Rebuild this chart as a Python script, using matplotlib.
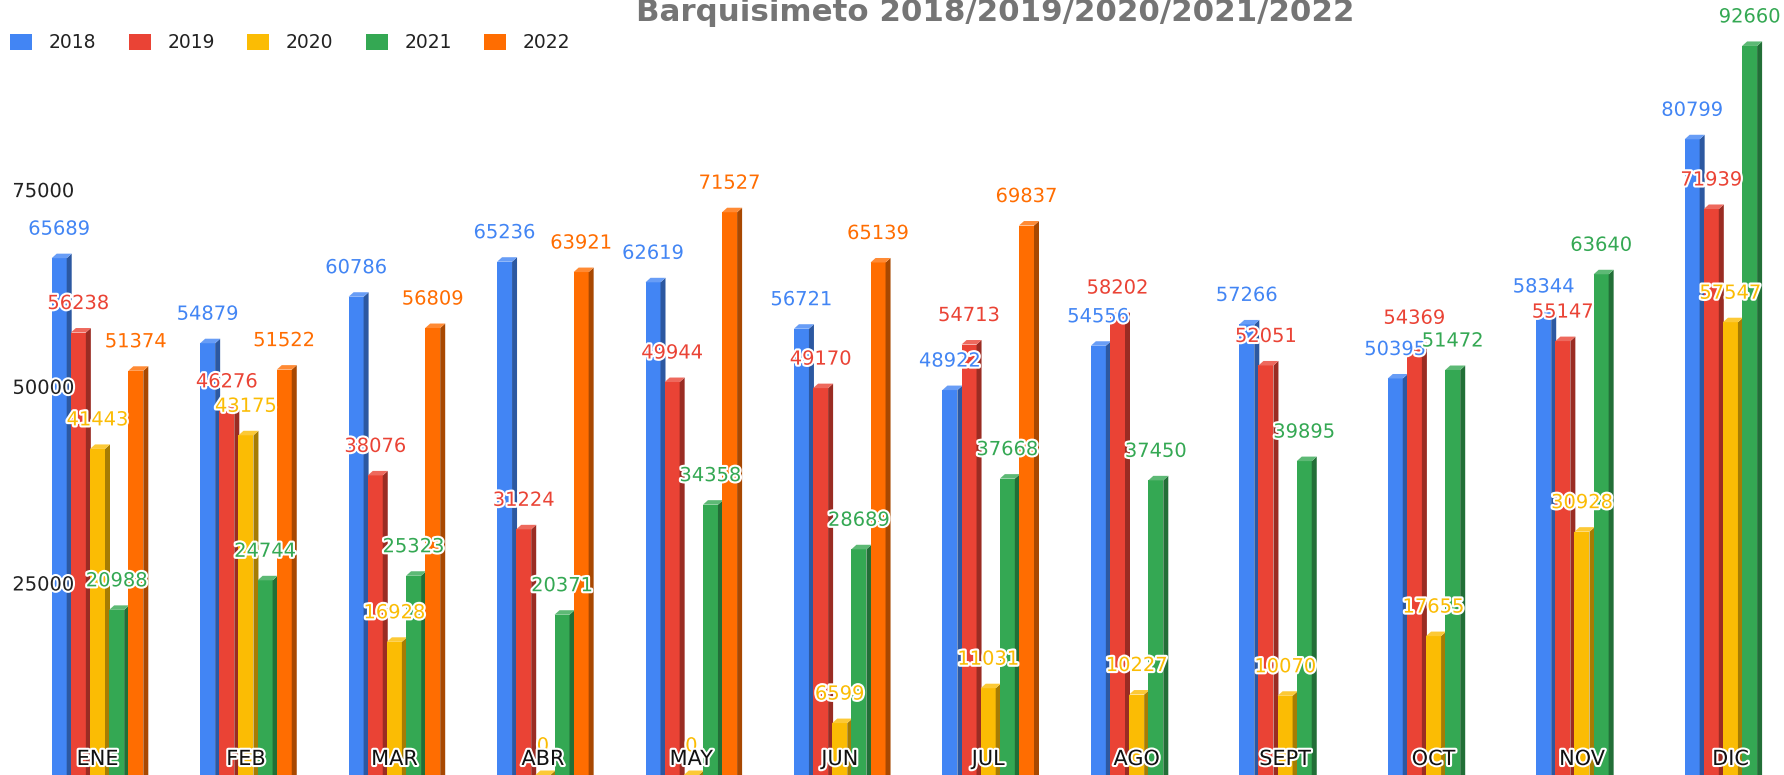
import matplotlib
matplotlib.use('Agg')
import matplotlib.pyplot as plt
import matplotlib.colors as mcolors
import matplotlib.patheffects as pe
from matplotlib.patches import Polygon, Patch
import numpy as np

# ---------------- data ----------------
months = ['ENE', 'FEB', 'MAR', 'ABR', 'MAY', 'JUN', 'JUL', 'AGO', 'SEPT', 'OCT', 'NOV', 'DIC']
years = ['2018', '2019', '2020', '2021', '2022']
v2018 = [65689, 54879, 60786, 65236, 62619, 56721, 48922, 54556, 57266, 50395, 58344, 80799]
v2019 = [56238, 46276, 38076, 31224, 49944, 49170, 54713, 58202, 52051, 54369, 55147, 71939]
v2020 = [41443, 43175, 16928, 0, 0, 6599, 11031, 10227, 10070, 17655, 30928, 57547]
v2021 = [20988, 24744, 25323, 20371, 34358, 28689, 37668, 37450, 39895, 51472, 63640, 92660]
v2022 = [51374, 51522, 56809, 63921, 71527, 65139, 69837, None, None, None, None, None]
series = [v2018, v2019, v2020, v2021, v2022]
colors = ['#4285F4', '#EA4335', '#FBBC04', '#34A853', '#FF6D01']
yticks = [25000, 50000, 75000]
title = 'Barquisimeto 2018/2019/2020/2021/2022'

# ---------------- layout ----------------
W, H, DPI = 1784, 775, 100
fig = plt.figure(figsize=(W / DPI, H / DPI), dpi=DPI)
fig.patch.set_facecolor('white')

px_per_cat = 148.45
px_per_unit_y = 196.7 / 25000.0
ymax = 100000
ax_h = ymax * px_per_unit_y / H
ax = fig.add_axes([0, 0, 1, ax_h])
xl = -97.5 / px_per_cat
ax.set_xlim(xl, xl + W / px_per_cat)
ax.set_ylim(0, ymax)
ax.axis('off')

slot = 19.15 / px_per_cat
fw = 15.0 / px_per_cat
dx = 5.0 / px_per_cat
dy = 4.5 / px_per_unit_y

FONT = 'DejaVu Sans'
stroke = [pe.withStroke(linewidth=3, foreground='white')]


def shade(c, f):
    r, g, b = mcolors.to_rgb(c)
    return (r * f, g * f, b * f)


def tint(c, f):
    r, g, b = mcolors.to_rgb(c)
    return (r + (1 - r) * f, g + (1 - g) * f, b + (1 - b) * f)


x = np.arange(len(months))
for k, (vals, col, yr) in enumerate(zip(series, colors, years)):
    idx = [i for i, v in enumerate(vals) if v is not None]
    xs = x[idx] + (k - 2) * slot
    hs = np.array([vals[i] for i in idx], dtype=float)
    z = 2 + k
    ax.bar(xs, hs, width=fw, color=col, zorder=z, linewidth=0)
    for xc, h in zip(xs, hs):
        x0, x1 = xc - fw / 2, xc + fw / 2
        side = Polygon([(x1, 0), (x1, h), (x1 + dx, h + dy), (x1 + dx, 0)],
                       closed=True, facecolor=shade(col, 0.66), edgecolor='none', zorder=z)
        top = Polygon([(x0, h), (x1, h), (x1 + dx, h + dy), (x0 + dx, h + dy)],
                      closed=True, facecolor=tint(col, 0.2), edgecolor='none', zorder=z)
        ax.add_patch(side)
        ax.add_patch(top)
        ax.annotate(f'{int(h)}', xy=(xc, h), xytext=(0, 29), textcoords='offset pixels',
                    ha='center', va='center', fontsize=14, color=col, family=FONT,
                    zorder=30, path_effects=stroke, annotation_clip=False)

# category labels
for i, m in enumerate(months):
    ax.annotate(m, xy=(i, 0), xytext=(0, 16), textcoords='offset pixels',
                ha='center', va='center', fontsize=15, color='#111111', family=FONT,
                zorder=31, path_effects=stroke, annotation_clip=False)

# y-axis labels (inside plot, left)
for t in yticks:
    ax.annotate(f'{t}', xy=(0, t), xycoords=('axes fraction', 'data'),
                xytext=(74, -6.7), textcoords='offset pixels',
                ha='right', va='center', fontsize=14, color='#222222', family=FONT,
                zorder=31, path_effects=stroke, annotation_clip=False)

# legend
handles = [Patch(facecolor=c, edgecolor='none', label=y) for c, y in zip(colors, years)]
leg = fig.legend(handles=handles, loc='upper left', bbox_to_anchor=(10 / W, 1 - 33 / H),
                 ncol=5, frameon=False, prop={'family': FONT, 'size': 13.5},
                 handlelength=1.17, handleheight=0.93, handletextpad=0.9,
                 columnspacing=1.72, borderaxespad=0, borderpad=0)
for txt in leg.get_texts():
    txt.set_color('#222222')

# title (cropped at top like the reference)
tt = fig.text(994.9 / W, 1 - 21 / H, title, ha='center', va='baseline',
              fontsize=22, fontweight='bold', color='#757575', family=FONT)
r = fig.canvas.get_renderer()
wpx = tt.get_window_extent(r).width
tt.set_fontsize(22 * 716.0 / wpx)

fig.savefig('out.png', dpi=DPI, facecolor='white')
